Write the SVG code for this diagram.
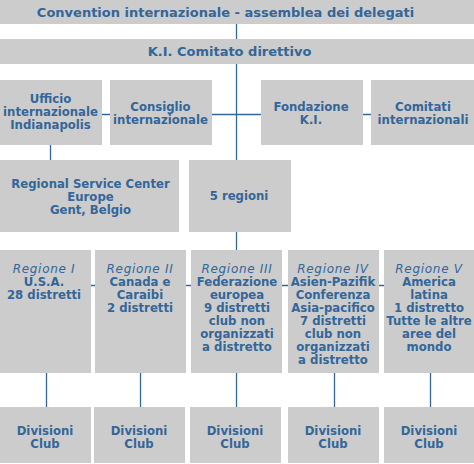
<svg xmlns="http://www.w3.org/2000/svg" width="474" height="464" viewBox="0 0 474 464">
<style>
rect{fill:#cccccc}
text{font-family:"DejaVu Sans",Verdana,sans-serif;font-size:11.7px;font-weight:bold;fill:#336699;text-anchor:middle}
.t{font-size:13px}
.i{font-style:italic;font-weight:normal;font-size:12px;letter-spacing:0.7px}
.c line{stroke:#336699;stroke-width:1.3}
</style>
<rect x="0" y="0" width="474" height="464" style="fill:#fff"/>
<g class="c" id="connectors">
<line x1="236.5" y1="24" x2="236.5" y2="39"/>
<line x1="236.5" y1="64" x2="236.5" y2="160"/>
<line x1="101" y1="114.5" x2="371" y2="114.5"/>
<line x1="50.5" y1="144" x2="50.5" y2="160"/>
<line x1="236.5" y1="231" x2="236.5" y2="250"/>
<line x1="91" y1="285.5" x2="384" y2="285.5"/>
<line x1="46.5" y1="372" x2="46.5" y2="407"/>
<line x1="140.5" y1="372" x2="140.5" y2="407"/>
<line x1="236.5" y1="372" x2="236.5" y2="407"/>
<line x1="334.5" y1="372" x2="334.5" y2="407"/>
<line x1="430.5" y1="372" x2="430.5" y2="407"/>
</g>
<g id="convention"><rect x="0" y="0" width="474" height="24"/><text class="t" x="225.5" y="16.5">Convention internazionale - assemblea dei delegati</text></g>
<g id="comitato"><rect x="0" y="39" width="474" height="25"/><text class="t" x="229.5" y="55.5">K.I. Comitato direttivo</text></g>
<g id="ufficio"><rect x="0" y="80" width="102" height="65"/><text x="50.5" y="103">Ufficio</text><text x="50.5" y="116">internazionale</text><text x="50.5" y="129">Indianapolis</text></g>
<g id="consiglio"><rect x="110" y="80" width="102" height="65"/><text x="160.5" y="111">Consiglio</text><text x="160.5" y="124">internazionale</text></g>
<g id="fondazione"><rect x="261" y="80" width="102" height="65"/><text x="311" y="111">Fondazione</text><text x="311" y="124">K.I.</text></g>
<g id="comitati"><rect x="371" y="80" width="103" height="65"/><text x="423" y="111">Comitati</text><text x="423" y="124">internazionali</text></g>
<g id="rsc"><rect x="0" y="160" width="179" height="72"/><text x="90.5" y="188">Regional Service Center</text><text x="90.5" y="201">Europe</text><text x="90.5" y="214">Gent, Belgio</text></g>
<g id="regioni5"><rect x="189" y="160" width="102" height="72"/><text x="239" y="200">5 regioni</text></g>
<g id="r1"><rect x="0" y="250" width="91" height="123"/><text class="i" x="44" y="273">Regione I</text><text x="44" y="286">U.S.A.</text><text x="44" y="299">28 distretti</text></g>
<g id="r2"><rect x="95" y="250" width="91" height="123"/><text class="i" x="140" y="273">Regione II</text><text x="140" y="286">Canada e</text><text x="140" y="299">Caraibi</text><text x="140" y="312">2 distretti</text></g>
<g id="r3"><rect x="191" y="250" width="91" height="123"/><text class="i" x="237" y="273">Regione III</text><text x="237" y="286">Federazione</text><text x="237" y="299">europea</text><text x="237" y="312">9 distretti</text><text x="237" y="325">club non</text><text x="237" y="338">organizzati</text><text x="237" y="351">a distretto</text></g>
<g id="r4"><rect x="288" y="250" width="91" height="123"/><text class="i" x="333" y="273">Regione IV</text><text x="333" y="286">Asien-Pazifik</text><text x="333" y="299">Conferenza</text><text x="333" y="312">Asia-pacifico</text><text x="333" y="325">7 distretti</text><text x="333" y="338">club non</text><text x="333" y="351">organizzati</text><text x="333" y="364">a distretto</text></g>
<g id="r5"><rect x="384" y="250" width="90" height="123"/><text class="i" x="429" y="273">Regione V</text><text x="429" y="286">America</text><text x="429" y="299">latina</text><text x="429" y="312">1 distretto</text><text x="429" y="325">Tutte le altre</text><text x="429" y="338">aree del</text><text x="429" y="351">mondo</text></g>
<g id="d1"><rect x="0" y="407" width="91" height="56"/><text x="45" y="435">Divisioni</text><text x="45" y="448">Club</text></g>
<g id="d2"><rect x="94" y="407" width="91" height="56"/><text x="139" y="435">Divisioni</text><text x="139" y="448">Club</text></g>
<g id="d3"><rect x="190" y="407" width="91" height="56"/><text x="235" y="435">Divisioni</text><text x="235" y="448">Club</text></g>
<g id="d4"><rect x="288" y="407" width="91" height="56"/><text x="333" y="435">Divisioni</text><text x="333" y="448">Club</text></g>
<g id="d5"><rect x="384" y="407" width="90" height="56"/><text x="429" y="435">Divisioni</text><text x="429" y="448">Club</text></g>
</svg>
